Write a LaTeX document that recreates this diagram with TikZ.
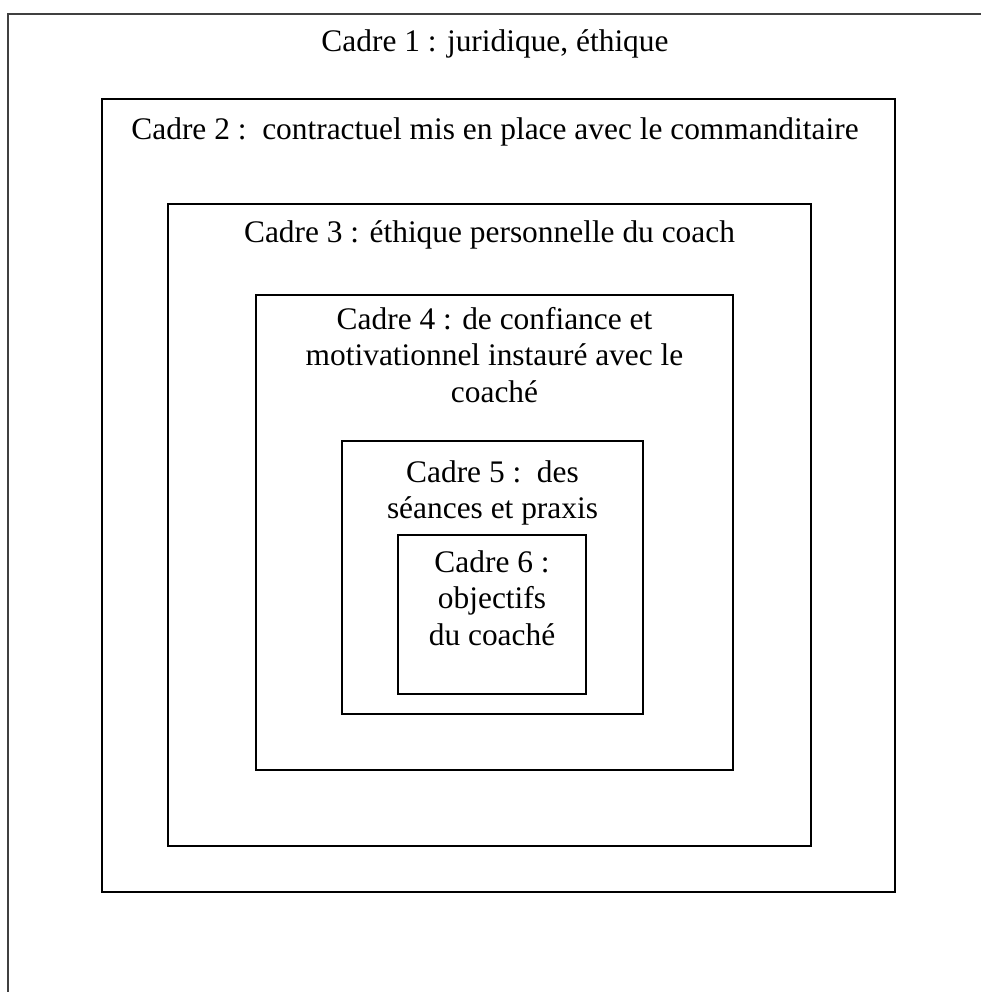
\documentclass[tikz,border=0pt]{standalone}
\usepackage{fontspec}
\setmainfont{Liberation Serif}
\begin{document}
\begin{tikzpicture}[x=1pt,y=-1pt,
  frame/.style={draw=black,line width=1.2pt},
  lbl/.style={anchor=base,inner sep=0pt,font=\fontsize{31.4}{36.4}\selectfont}]
\useasboundingbox (0,0) rectangle (981,992);
\draw[frame,draw=black!75,line width=1.4pt] (8,992) -- (8,14) -- (981,14);
\draw[frame] (102,99) rectangle (895,892);
\draw[frame] (168,204) rectangle (811,846);
\draw[frame] (256,295) rectangle (733,770);
\draw[frame] (342,441) rectangle (643,714);
\draw[frame] (398,535) rectangle (586,694);
\node[lbl] (t1) at (495,52) {Cadre 1 : juridique, éthique};
\node[lbl] (t2) at (495,140) {Cadre 2 :\ \ contractuel mis en place avec le commanditaire};
\node[lbl] (t3) at (489.5,243) {Cadre 3 : éthique personnelle du coach};
\node[lbl] (t4a) at (494.5,329) {Cadre 4 : de confiance et\ };
\node[lbl] (t4b) at (494.5,365.5) {motivationnel instauré avec le\ };
\node[lbl] (t4c) at (494.5,402) {coaché};
\node[lbl] (t5a) at (492.5,482) {Cadre 5 :\ \ des};
\node[lbl] (t5b) at (492.5,518.5) {séances et praxis};
\node[lbl] (t6a) at (492,572) {Cadre 6 :};
\node[lbl] (t6b) at (492,608.5) {objectifs};
\node[lbl] (t6c) at (492,645) {du coaché};
\end{tikzpicture}
\end{document}
